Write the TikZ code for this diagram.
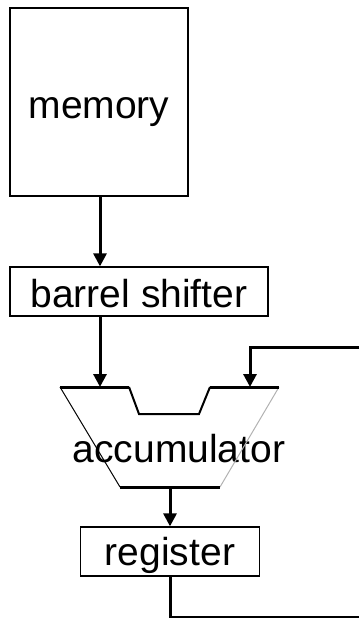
\documentclass[tikz,border=0pt]{standalone}
\usepackage{fontspec}
\setmainfont{Liberation Sans}
\usetikzlibrary{arrows.meta}

\tikzset{
  blk/.style={draw, line width=1.3pt, inner sep=0pt, anchor=base},
  flow/.style={line width=3pt, -{Triangle[width=13pt,length=13pt]}},
  wire/.style={line width=3pt},
  bar/.style={line width=3pt},
}

\begin{document}
\begin{tikzpicture}[x=1pt, y=-1pt, font=\fontsize{39}{46}\selectfont]
            \useasboundingbox (0,0) rectangle (359,618);

            % boxes
            \node[blk, minimum width=178pt, text height=110pt, text depth=78pt] (mem) at (99,118) {memory};
            \node[blk, minimum width=258pt, text height=40pt, text depth=9pt] (shift) at (139,307) {barrel shifter};
            \node[blk, minimum width=179pt, text height=38pt, text depth=11pt] (reg) at (170,565) {register};

            % accumulator
            \node[anchor=base, inner sep=0pt] (acc) at (179,462) {accumulator};
            \coordinate (inA) at (100,387);
            \coordinate (inB) at (250,387);
            \coordinate (out) at (170,487);
                \draw[line width=1pt] (60,387) -- (120,487);
                \draw[line width=1pt, gray!60] (279,387) -- (220,487);
                \draw[line width=2pt] (129,387) -- (139,414) -- (199,414) -- (210,387);
                \draw[bar] (60,387) -- (129,387);
                \draw[bar] (210,387) -- (279,387);
                \draw[bar] (120,487) -- (220,487);

            % data path
            \draw[flow] (inA |- mem.south) -- (inA |- shift.north);
            \draw[flow] (inA |- shift.south) -- (inA);
            \draw[flow] (out) -- (out |- reg.north);

            % feedback loop
            \coordinate (fbLow) at (359,617);
            \coordinate (fbTop) at (359,347);
            \draw[wire] (reg.south) |- (fbLow);
            \draw[flow] (fbTop) -| (inB);
\end{tikzpicture}
\end{document}
